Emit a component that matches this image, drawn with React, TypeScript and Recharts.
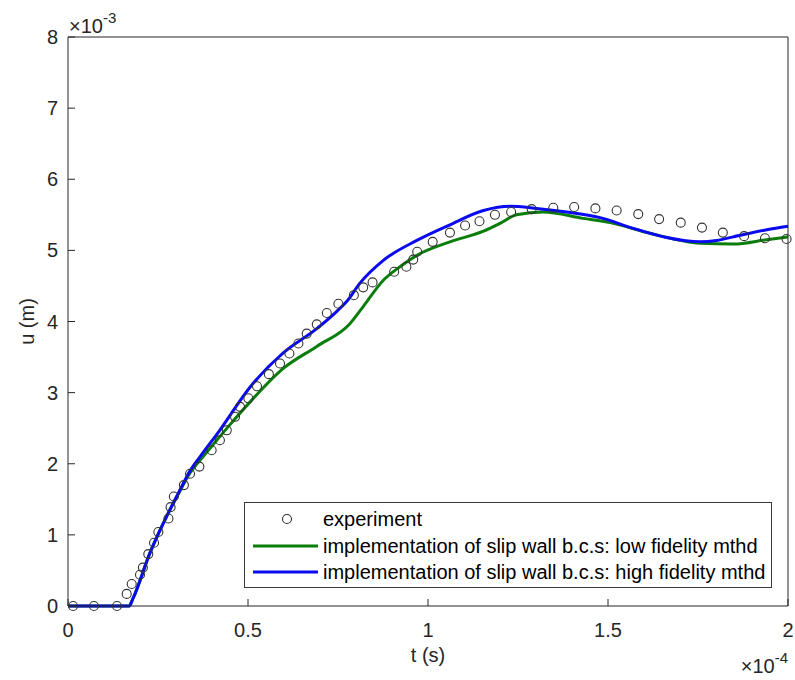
import React from 'react';
import { ComposedChart, Line, Scatter, XAxis, YAxis } from 'recharts';

const FONT = '"Liberation Sans", Arial, Helvetica, sans-serif';
const INK = '#262626';

// t in 1e-4 s, u in 1e-3 m
const xTicks = [0, 0.5, 1, 1.5, 2];
const yTicks = [0, 1, 2, 3, 4, 5, 6, 7, 8];

const expT = [0.014, 0.072, 0.136, 0.163, 0.177, 0.2, 0.208, 0.223, 0.239, 0.251, 0.279, 0.285, 0.294, 0.322, 0.339, 0.365, 0.399, 0.422, 0.441, 0.464, 0.478, 0.501, 0.525, 0.558, 0.589, 0.615, 0.64, 0.663, 0.691, 0.719, 0.751, 0.794, 0.82, 0.846, 0.906, 0.94, 0.959, 0.97, 1.013, 1.061, 1.103, 1.143, 1.186, 1.231, 1.288, 1.348, 1.406, 1.465, 1.524, 1.584, 1.642, 1.702, 1.761, 1.819, 1.878, 1.936, 1.996];
const expU = [0, 0, 0, 0.17, 0.31, 0.44, 0.54, 0.73, 0.89, 1.04, 1.23, 1.39, 1.54, 1.7, 1.86, 1.96, 2.19, 2.33, 2.47, 2.66, 2.8, 2.92, 3.09, 3.26, 3.41, 3.55, 3.69, 3.83, 3.96, 4.12, 4.25, 4.37, 4.48, 4.55, 4.7, 4.77, 4.87, 4.98, 5.12, 5.25, 5.35, 5.41, 5.5, 5.54, 5.58, 5.6, 5.61, 5.59, 5.56, 5.51, 5.44, 5.39, 5.32, 5.25, 5.2, 5.17, 5.16];

const lowT = [0, 0.17, 0.18, 0.228, 0.274, 0.306, 0.339, 0.37, 0.4, 0.45, 0.506, 0.598, 0.691, 0.783, 0.82, 0.876, 0.922, 0.969, 1.061, 1.154, 1.2, 1.246, 1.32, 1.431, 1.506, 1.617, 1.756, 1.848, 1.941, 2];
const lowU = [0, 0, 0.1, 0.75, 1.26, 1.57, 1.87, 2.07, 2.25, 2.55, 2.87, 3.34, 3.65, 3.97, 4.21, 4.58, 4.77, 4.93, 5.12, 5.27, 5.38, 5.5, 5.54, 5.45, 5.39, 5.24, 5.1, 5.09, 5.15, 5.19];

const highT = [0, 0.17, 0.18, 0.228, 0.274, 0.306, 0.339, 0.37, 0.42, 0.506, 0.598, 0.691, 0.746, 0.774, 0.811, 0.876, 0.969, 1.061, 1.154, 1.228, 1.302, 1.385, 1.478, 1.57, 1.663, 1.756, 1.802, 1.848, 1.941, 2];
const highU = [0, 0, 0.1, 0.75, 1.26, 1.58, 1.9, 2.12, 2.46, 3.08, 3.56, 3.9, 4.14, 4.28, 4.54, 4.86, 5.14, 5.36, 5.56, 5.62, 5.59, 5.54, 5.46, 5.31, 5.18, 5.12, 5.14, 5.19, 5.29, 5.34];

const seriesNames = [
  'experiment',
  'implementation of slip wall b.c.s: low fidelity mthd',
  'implementation of slip wall b.c.s: high fidelity mthd',
];
const LOW_COLOR = '#0b7d0b';
const HIGH_COLOR = '#0a0af0';

const expData = expT.map((t, i) => ({ t, u: expU[i] }));
const lowData = lowT.map((t, i) => ({ t, u: lowU[i] }));
const highData = highT.map((t, i) => ({ t, u: highU[i] }));

const tickStyle = { fill: INK, fontSize: 20, fontFamily: FONT };

const Ring = (p: any) => (
  <circle cx={p.cx} cy={p.cy} r={4.5} fill="none" stroke="#333" strokeWidth={1.1} />
);

const YLabel = (props: any) => {
  const vb = props.viewBox || { x: 0, y: 37, width: 68, height: 569 };
  const cy = vb.y + vb.height / 2;
  const rx = vb.x + vb.width;
  return (
    <g fontFamily={FONT} fill={INK}>
      <text x={34} y={cy} fontSize={20} textAnchor="middle" transform={`rotate(-90, 34, ${cy})`}>
        u (m)
      </text>
      <text x={rx + 1} y={vb.y - 4} fontSize={20}>
        ×10<tspan dy={-10} fontSize={15}>-3</tspan>
      </text>
    </g>
  );
};

const XLabel = (props: any) => {
  const vb = props.viewBox || { x: 68, y: 606, width: 720, height: 30 };
  return (
    <g fontFamily={FONT} fill={INK}>
      <text x={vb.x + vb.width / 2} y={vb.y + 56} fontSize={20} textAnchor="middle">
        t (s)
      </text>
      <text x={vb.x + vb.width} y={vb.y + 67} fontSize={20} textAnchor="end">
        ×10<tspan dy={-10} fontSize={15}>-4</tspan>
      </text>
    </g>
  );
};

const LegendBox = () => (
  <div
    style={{
      position: 'absolute',
      left: 244,
      top: 502,
      width: 526,
      height: 84,
      border: '1px solid #3a3a3a',
      background: '#fff',
      fontFamily: FONT,
      fontSize: 20,
      color: '#000',
      boxSizing: 'content-box',
    }}
  >
    {seriesNames.map((name, i) => (
      <div key={name} style={{ position: 'absolute', left: 0, top: 3 + i * 26.7, height: 26, width: '100%', display: 'flex', alignItems: 'center' }}>
        <svg width={78} height={26} style={{ flex: 'none' }}>
          {i === 0 ? (
            <circle cx={42} cy={13} r={4.5} fill="none" stroke="#333" strokeWidth={1.1} />
          ) : (
            <line x1={8} x2={73} y1={13} y2={13} stroke={i === 1 ? LOW_COLOR : HIGH_COLOR} strokeWidth={3} />
          )}
        </svg>
        <span style={{ whiteSpace: 'nowrap', lineHeight: '26px' }}>{name}</span>
      </div>
    ))}
  </div>
);

export default function App() {
  return (
    <div style={{ position: 'absolute', left: 0, top: 0, width: 795, height: 680, background: '#fff' }}>
      <ComposedChart width={795} height={680} margin={{ top: 0, right: 0, bottom: 44, left: 0 }}>
        <XAxis
          dataKey="t"
          type="number"
          domain={[0, 2]}
          ticks={xTicks}
          interval={0}
          height={30}
          tickSize={-7}
          tickMargin={24}
          stroke={INK}
          tick={tickStyle}
          label={<XLabel />}
        />
        <XAxis
          xAxisId="top"
          orientation="top"
          dataKey="t"
          type="number"
          domain={[0, 2]}
          ticks={xTicks}
          interval={0}
          height={37}
          tickSize={-7}
          stroke={INK}
          tickFormatter={() => ''}
        />
        <YAxis
          type="number"
          domain={[0, 8]}
          ticks={yTicks}
          interval={0}
          width={68}
          tickSize={-7}
          tickMargin={17}
          stroke={INK}
          tick={tickStyle}
          label={<YLabel />}
        />
        <YAxis
          yAxisId="right"
          orientation="right"
          type="number"
          domain={[0, 8]}
          ticks={yTicks}
          interval={0}
          width={7}
          tickSize={-7}
          stroke={INK}
          tickFormatter={() => ''}
        />
        <Scatter name={seriesNames[0]} data={expData} dataKey="u" shape={Ring} isAnimationActive={false} />
        <Line
          name={seriesNames[1]}
          data={lowData}
          dataKey="u"
          type="monotone"
          stroke={LOW_COLOR}
          strokeWidth={3}
          dot={false}
          activeDot={false}
          isAnimationActive={false}
        />
        <Line
          name={seriesNames[2]}
          data={highData}
          dataKey="u"
          type="monotone"
          stroke={HIGH_COLOR}
          strokeWidth={3}
          dot={false}
          activeDot={false}
          isAnimationActive={false}
        />
      </ComposedChart>
      <LegendBox />
    </div>
  );
}
